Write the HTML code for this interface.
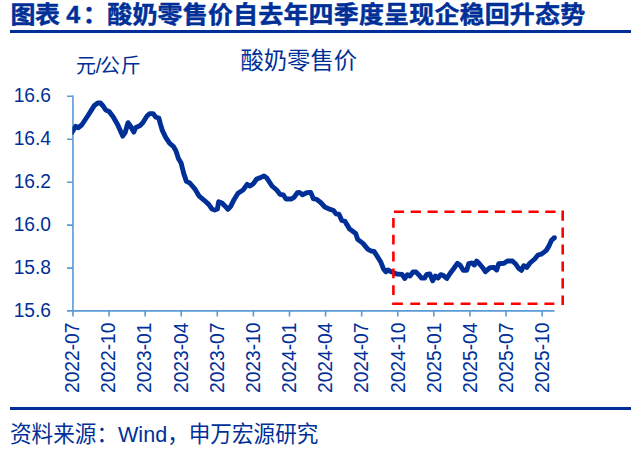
<!DOCTYPE html>
<html><head><meta charset="utf-8">
<style>
html,body{margin:0;padding:0;background:#fff;}
body{width:633px;height:449px;position:relative;overflow:hidden;font-family:"Liberation Sans","Noto Sans CJK SC",sans-serif;color:#003097;}
#title{position:absolute;left:10.5px;top:-3.5px;transform:scaleY(0.975);transform-origin:0 5.5px;font-size:25px;font-weight:bold;white-space:nowrap;line-height:36px;-webkit-text-stroke:0.45px #003097;}
#title .a{letter-spacing:-0.6px;}
#title .c{letter-spacing:2.5px;}
#title .b{margin-left:-0.4px;letter-spacing:0.16px;}
.rule{position:absolute;left:10px;width:621px;height:3px;background:#003097;}
#src{position:absolute;left:10px;top:418.5px;transform:scaleY(1.045);transform-origin:0 25.7px;font-size:21.6px;white-space:nowrap;line-height:32px;}
svg{position:absolute;left:0;top:0;}
svg text{font-family:"Liberation Sans","Noto Sans CJK SC",sans-serif;fill:#003097;}
</style></head><body>
<div id="title"><span class="a">图表</span> <span class="c">4</span>：<span class="b">酸奶零售价自去年四季度呈现企稳回升态势</span></div>
<div class="rule" style="top:30px"></div>
<svg width="633" height="449" viewBox="0 0 633 449">
<defs><clipPath id="cl"><rect x="72.4" y="80" width="500" height="240"/></clipPath></defs>
<text x="76.1" y="73" font-size="20">元<tspan dx="-0.4">/</tspan><tspan dx="-1.3">公</tspan><tspan dx="0.7">斤</tspan></text>
<text x="240.5" y="68.5" font-size="23.3">酸奶零售价</text>
<g stroke="#5b9bd5" stroke-width="1.6" fill="none">
<path d="M72.95 95.4 V316.5 M67 310.9 H554.5"/>
<path d="M67 96.2H73M67 139.2H73M67 182.2H73M67 225.1H73M67 268.1H73"/>
<path d="M109.04 311V316.5M145.13 311V316.5M181.22 311V316.5M217.31 311V316.5M253.40 311V316.5M289.49 311V316.5M325.58 311V316.5M361.67 311V316.5M397.76 311V316.5M433.85 311V316.5M469.94 311V316.5M506.03 311V316.5M542.12 311V316.5"/>
</g>
<g font-size="19.2" text-anchor="end">
<text transform="translate(51,101.6) scale(1,1.06)">16.6</text>
<text transform="translate(51,144.6) scale(1,1.06)">16.4</text>
<text transform="translate(51,187.6) scale(1,1.06)">16.2</text>
<text transform="translate(51,230.6) scale(1,1.06)">16.0</text>
<text transform="translate(51,273.6) scale(1,1.06)">15.8</text>
<text transform="translate(51,316.6) scale(1,1.06)">15.6</text>
</g>
<g font-size="19.2">
<text transform="translate(79.0,393) rotate(-90) scale(1,1.07)">2022-07</text>
<text transform="translate(115.2,393) rotate(-90) scale(1,1.07)">2022-10</text>
<text transform="translate(151.4,393) rotate(-90) scale(1,1.07)">2023-01</text>
<text transform="translate(187.5,393) rotate(-90) scale(1,1.07)">2023-04</text>
<text transform="translate(223.7,393) rotate(-90) scale(1,1.07)">2023-07</text>
<text transform="translate(259.9,393) rotate(-90) scale(1,1.07)">2023-10</text>
<text transform="translate(296.1,393) rotate(-90) scale(1,1.07)">2024-01</text>
<text transform="translate(332.3,393) rotate(-90) scale(1,1.07)">2024-04</text>
<text transform="translate(368.4,393) rotate(-90) scale(1,1.07)">2024-07</text>
<text transform="translate(404.6,393) rotate(-90) scale(1,1.07)">2024-10</text>
<text transform="translate(440.8,393) rotate(-90) scale(1,1.07)">2025-01</text>
<text transform="translate(477.0,393) rotate(-90) scale(1,1.07)">2025-04</text>
<text transform="translate(513.2,393) rotate(-90) scale(1,1.07)">2025-07</text>
<text transform="translate(549.3,393) rotate(-90) scale(1,1.07)">2025-10</text>
</g>
<polyline fill="none" stroke="#003097" stroke-width="4.9" stroke-linejoin="round" stroke-linecap="butt" clip-path="url(#cl)" points="
70.9,133.9 73.3,130.1 75.7,126.3 78.4,127.7 81.7,125 87.7,116 94.4,105.4 97.7,103 100.4,103 103.1,106 105.7,110 109.1,111.4 113.1,116.7 117.7,124.7 122.7,136.1 125.1,132.7 128,122.7 130.4,126 133.8,132.1 135.8,127.4 139.8,125.8 142.6,123 147,116 149.7,113.6 153,113.6 155.7,117.1 158.8,118 160.4,124 162.4,130.7 165.7,137.4 169.7,143.4 173.3,146.3 175.9,150.7 178.6,158.9 181,162.7 183.7,173.4 186.4,181.4 189.8,183 194.8,188.8 199.2,196.2 204.2,200.3 208.7,204.4 212,209 214.7,210.1 217.4,209 218.7,201.7 222,203 225.4,206.4 228,209.3 230.7,206.4 234,199.7 238,193.3 243.4,189.7 247.1,184.4 250,186.1 253.4,183.7 256.7,179 260.5,177.6 264,175.9 266.7,177.9 272,186 276.7,190 280,194.4 283.4,195 286,199 291.4,199 294,197.4 297.4,192.7 299.4,192.4 302.5,194.7 306.7,192.7 310.7,192.4 313.4,198.7 316.7,199.4 320.7,202.5 324.8,207 330.3,209.4 333.5,210.5 336.2,213.9 339,214.2 341.7,220.3 344.8,221.1 349.7,229.1 355.7,233.4 357.7,239.4 363,243.4 367.7,249.1 371,251 374,251.4 376.8,255.7 380.6,261.7 383.4,268.7 385.8,271.8 388,270 391.4,271.8 396.7,274 402,274.4 404.7,278.5 407.4,274.7 410,276 413,272 416,272 419.4,275.4 421.4,278 424.7,278 426.7,274.4 429.8,274 432.7,280.7 435.4,276 438.1,278 440.8,274.6 443.2,275.3 446.8,278.5 450,273.5 453.4,269 457.4,263.3 460,265 463.4,270.4 466.7,270.4 468.7,263.7 472,263 474.4,265 476.7,261 479.4,263.7 482.7,267.7 485.4,271.7 490,267.7 494.1,267.4 496.7,270 498.7,263.7 504,263.2 507.4,261 512.4,261 515.7,264 518.4,268 521.4,270.4 523.8,265.7 526.7,267.5 530,263 534.7,259 538,255 541.4,254.1 546.1,250.6 548.7,246.4 551.4,240.4 554.5,237.7"/>
<path d="M393.9 211.7H404.1M410.7 211.7H420.9M427.5 211.7H437.7M444.4 211.7H454.6M461.2 211.7H471.4M478.0 211.7H488.2M494.8 211.7H505.0M511.6 211.7H521.8M528.5 211.7H538.7M545.3 211.7H555.5M562.7 210.5V220.7M562.7 227.5V237.7M562.7 244.4V254.6M562.7 261.4V271.6M562.7 278.3V288.5M562.7 295.4V305M392.1 303.8H402.9M410.3 303.8H420.2M427.1 303.8H437.0M443.8 303.8H453.7M460.6 303.8H470.5M477.3 303.8H487.2M494.1 303.8H504.0M510.9 303.8H520.8M527.6 303.8H537.5M544.4 303.8H554.3M393.4 218.0V227.8M393.4 234.8V244.6M393.4 251.6V261.4M393.4 268.4V278.2M393.4 285.2V295.0" fill="none" stroke="#f00" stroke-width="2.6"/>
<circle cx="554.5" cy="237.7" r="2.45" fill="#003097"/>
</svg>
<div class="rule" style="top:407px"></div>
<div id="src">资料来源：Wind，申万宏源研究</div>
</body></html>
